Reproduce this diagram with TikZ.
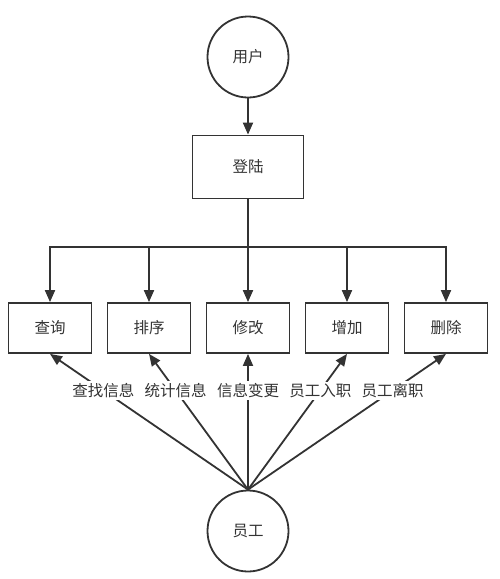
\documentclass[tikz,border=0pt]{standalone}
\usepackage{fontspec}
\setmainfont{Noto Sans CJK SC}
\usetikzlibrary{arrows.meta}
\definecolor{ink}{HTML}{333333}
\tikzset{
  line/.style={draw=ink, line width=1.8pt},
  arr/.style={line, -{Triangle[length=12pt,width=10pt]}},
  actor/.style={line, circle, minimum size=81pt, inner sep=0pt, text=ink, font=\fontsize{15.5}{17}\selectfont},
  func/.style={line, rectangle, minimum width=83pt, minimum height=50pt, inner sep=0pt, text=ink, font=\fontsize{15.5}{17}\selectfont},
  tag/.style={fill=white, inner sep=2pt, text=ink, font=\fontsize{15.5}{17}\selectfont}
}
\begin{document}
\begin{tikzpicture}[x=1pt,y=-1pt] % user / staff system

\def\Ybox{328} % row of function boxes
\def\Ybar{247} % branch bar
\useasboundingbox (0,0) rectangle (500,579);

\node[actor] (user) at (248,57) {用户};
\node[func, minimum width=111pt, minimum height=63pt] (login) at (248,167) {登陆};
\coordinate (bar) at (248,\Ybar);

\node[func] (query) at (50,\Ybox) {查询};
\node[func] (sort) at (149,\Ybox) {排序};
\node[func] (edit) at (248,\Ybox) {修改};
\node[func] (add) at (347,\Ybox) {增加};
\node[func] (del) at (446,\Ybox) {删除};

\node[actor] (staff) at (248,531) {员工};

\draw[arr] (user) -- (login);
\foreach \b in {query,sort,edit,add,del} {
  \draw[arr] (login.south) -- (bar) -| (\b.north);
}

\draw[arr] (staff.north) -- (query.south) node[tag, pos=0.73] {查找信息};
\draw[arr] (staff.north) -- (sort.south) node[tag, pos=0.73] {统计信息};
\draw[arr] (staff.north) -- (edit.south) node[tag, pos=0.73] {信息变更};
\draw[arr] (staff.north) -- (add.south) node[tag, pos=0.73] {员工入职};
\draw[arr] (staff.north) -- (del.south) node[tag, pos=0.73] {员工离职};
\end{tikzpicture}
\end{document}
